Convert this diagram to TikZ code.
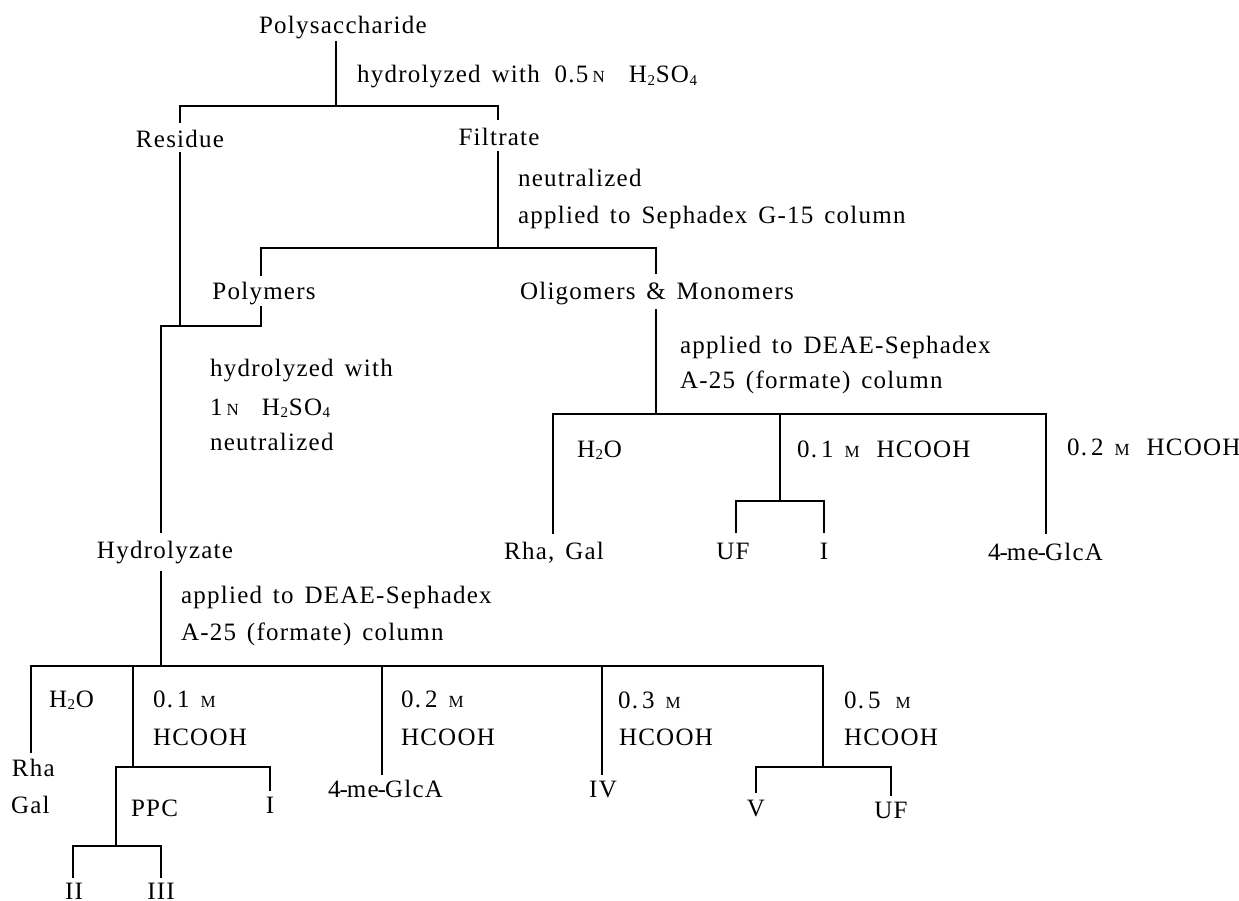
\documentclass[tikz,border=0pt]{standalone}
\usepackage{fontspec}
\setmainfont{Liberation Serif}[WordSpace=1.45,LetterSpace=5]
\newcommand{\smc}[1]{{\fontsize{17}{17}\selectfont #1}}
\newcommand{\subs}[1]{\kern.6pt\raisebox{-2.5pt}{\fontsize{15}{15}\selectfont #1}\kern.8pt}
\newcommand{\hoh}{H\subs{2}O}
\newcommand{\sul}{H\subs{2}SO\subs{4}}
\newcommand{\gca}{4\kern-1pt-\kern-1pt me\kern-1pt-\kern-1pt GlcA}
\begin{document}
\begin{tikzpicture}[x=1pt,y=-1pt,
  lab/.style={anchor=base west,inner sep=0pt,outer sep=0pt,font=\fontsize{25}{25}\selectfont},
  labc/.style={anchor=base,inner sep=0pt,outer sep=0pt,font=\fontsize{25}{25}\selectfont},
  wire/.style={draw=black,line width=1.5pt,line cap=rect,line join=miter}]
\useasboundingbox (0,0) rectangle (1239,901);
% labels
\node[lab] (poly) at (259,34) {Polysaccharide};
\node[lab] (t1) at (357,83) {hydrolyzed with\hspace{4pt} 0.5\,\smc{N}\hspace{24pt}\sul};
\node[labc] (residue) at (180,148) {Residue};
\node[labc] (filtrate) at (499,146) {Filtrate};
\node[lab] (t2) at (518,187) {neutralized};
\node[lab] (t3) at (518,224) {applied to Sephadex G-15 column};
\node[labc] (polymers) at (264,299) {Polymers};
\node[lab] (olig) at (520,299) {Oligomers \& Monomers};
\node[lab] (t4) at (680,353) {applied to DEAE-Sephadex};
\node[lab] (t5) at (680,388) {A-25 (formate) column};
\node[lab] (t6) at (210,376) {hydrolyzed with};
\node[lab] (t7) at (210,415) {1\,\smc{N}\hspace{23pt}\sul};
\node[lab] (t8) at (210,450) {neutralized};
\node[labc] (hyd) at (165,558) {Hydrolyzate};
\node[lab] (t9) at (181,603) {applied to DEAE-Sephadex};
\node[lab] (t10) at (181,640) {A-25 (formate) column};
\node[lab] (h2oa) at (577,457) {\hoh};
\node[lab] (ma) at (797,457) {0.\,1 \smc{M}\hspace{17pt}HCOOH};
\node[lab] (mb) at (1067,455) {0.\,2 \smc{M}\hspace{17pt}HCOOH};
\node[labc] (rg) at (554,559) {Rha, Gal};
\node[labc] (ufa) at (733,559) {UF};
\node[labc] (ia) at (824,559) {I};
\node[labc] (gla) at (1045.5,560) {\gca};
\node[lab] (h2ob) at (49,707) {\hoh};
\node[lab] (b1) at (153,707) {0.\,1 \smc{M}};
\node[lab] (b1h) at (153,745) {HCOOH};
\node[lab] (b2) at (401,707) {0.\,2 \smc{M}};
\node[lab] (b2h) at (401,745) {HCOOH};
\node[lab] (b3) at (618,708) {0.\,3 \smc{M}};
\node[lab] (b3h) at (619,745) {HCOOH};
\node[lab] (b5) at (844,708) {0.\,5\hspace{15pt}\smc{M}};
\node[lab] (b5h) at (844,745) {HCOOH};
\node[lab] (rha) at (12,776) {Rha};
\node[lab] (gal) at (11,813) {Gal};
\node[lab] (ppc) at (131,816) {PPC};
\node[labc] (ib) at (270,813) {I};
\node[labc] (glb) at (385.5,797) {\gca};
\node[labc] (iv) at (603,797) {IV};
\node[labc] (vv) at (756,816) {V};
\node[labc] (ufb) at (891,818) {UF};
\node[labc] (ii) at (74,899) {II};
\node[labc] (iii) at (161,899) {III};
% junctions
\coordinate (a0) at (336,42);
\coordinate (a1) at (336,106);
\coordinate (a2) at (180,106);
\coordinate (a3) at (498,106);
\coordinate (a4) at (180,122);
\coordinate (a5) at (498,119);
\coordinate (c0) at (180,153);
\coordinate (c1) at (180,326);
\coordinate (d0) at (498,152);
\coordinate (d1) at (498,248);
\coordinate (d2) at (261,248);
\coordinate (d3) at (656,248);
\coordinate (d4) at (261,275);
\coordinate (d5) at (656,273);
\coordinate (e0) at (261,307);
\coordinate (e1) at (261,326);
\coordinate (e2) at (161,326);
\coordinate (e3) at (161,532);
\coordinate (f0) at (656,310);
\coordinate (f1) at (656,414);
\coordinate (f2) at (553,414);
\coordinate (f3) at (1046,414);
\coordinate (f4) at (553,533);
\coordinate (f5) at (1046,533);
\coordinate (f6) at (780,414);
\coordinate (f7) at (780,501);
\coordinate (f8) at (736,501);
\coordinate (f9) at (824,501);
\coordinate (f10) at (736,532);
\coordinate (f11) at (824,532);
\coordinate (g0) at (161,572);
\coordinate (g1) at (161,666);
\coordinate (g2) at (31,666);
\coordinate (g3) at (823,666);
\coordinate (g4) at (31,752);
\coordinate (h0) at (133,666);
\coordinate (h1) at (133,767);
\coordinate (h2) at (116,767);
\coordinate (h3) at (270,767);
\coordinate (h4) at (270,790);
\coordinate (h5) at (116,846);
\coordinate (h6) at (73,846);
\coordinate (h7) at (161,846);
\coordinate (h8) at (73,877);
\coordinate (h9) at (161,877);
\coordinate (i0) at (382,666);
\coordinate (i1) at (382,774);
\coordinate (j0) at (602,666);
\coordinate (j1) at (602,774);
\coordinate (k0) at (823,767);
\coordinate (k1) at (756,767);
\coordinate (k2) at (891,767);
\coordinate (k3) at (756,792);
\coordinate (k4) at (891,795);
% connectors
\draw[wire] (a0) -- (a1);
\draw[wire] (a4) -- (a2) -- (a3) -- (a5);
\draw[wire] (c0) -- (c1);
\draw[wire] (d0) -- (d1);
\draw[wire] (d4) -- (d2) -- (d3) -- (d5);
\draw[wire] (e0) -- (e1) -- (e2) -- (e3);
\draw[wire] (f0) -- (f1);
\draw[wire] (f4) -- (f2) -- (f3) -- (f5);
\draw[wire] (f6) -- (f7);
\draw[wire] (f10) -- (f8) -- (f9) -- (f11);
\draw[wire] (g0) -- (g1);
\draw[wire] (g4) -- (g2) -- (g3) -- (k0);
\draw[wire] (h0) -- (h1);
\draw[wire] (h4) -- (h3) -- (h2) -- (h5);
\draw[wire] (h8) -- (h6) -- (h7) -- (h9);
\draw[wire] (i0) -- (i1);
\draw[wire] (j0) -- (j1);
\draw[wire] (k3) -- (k1) -- (k2) -- (k4);
\end{tikzpicture}
\end{document}
